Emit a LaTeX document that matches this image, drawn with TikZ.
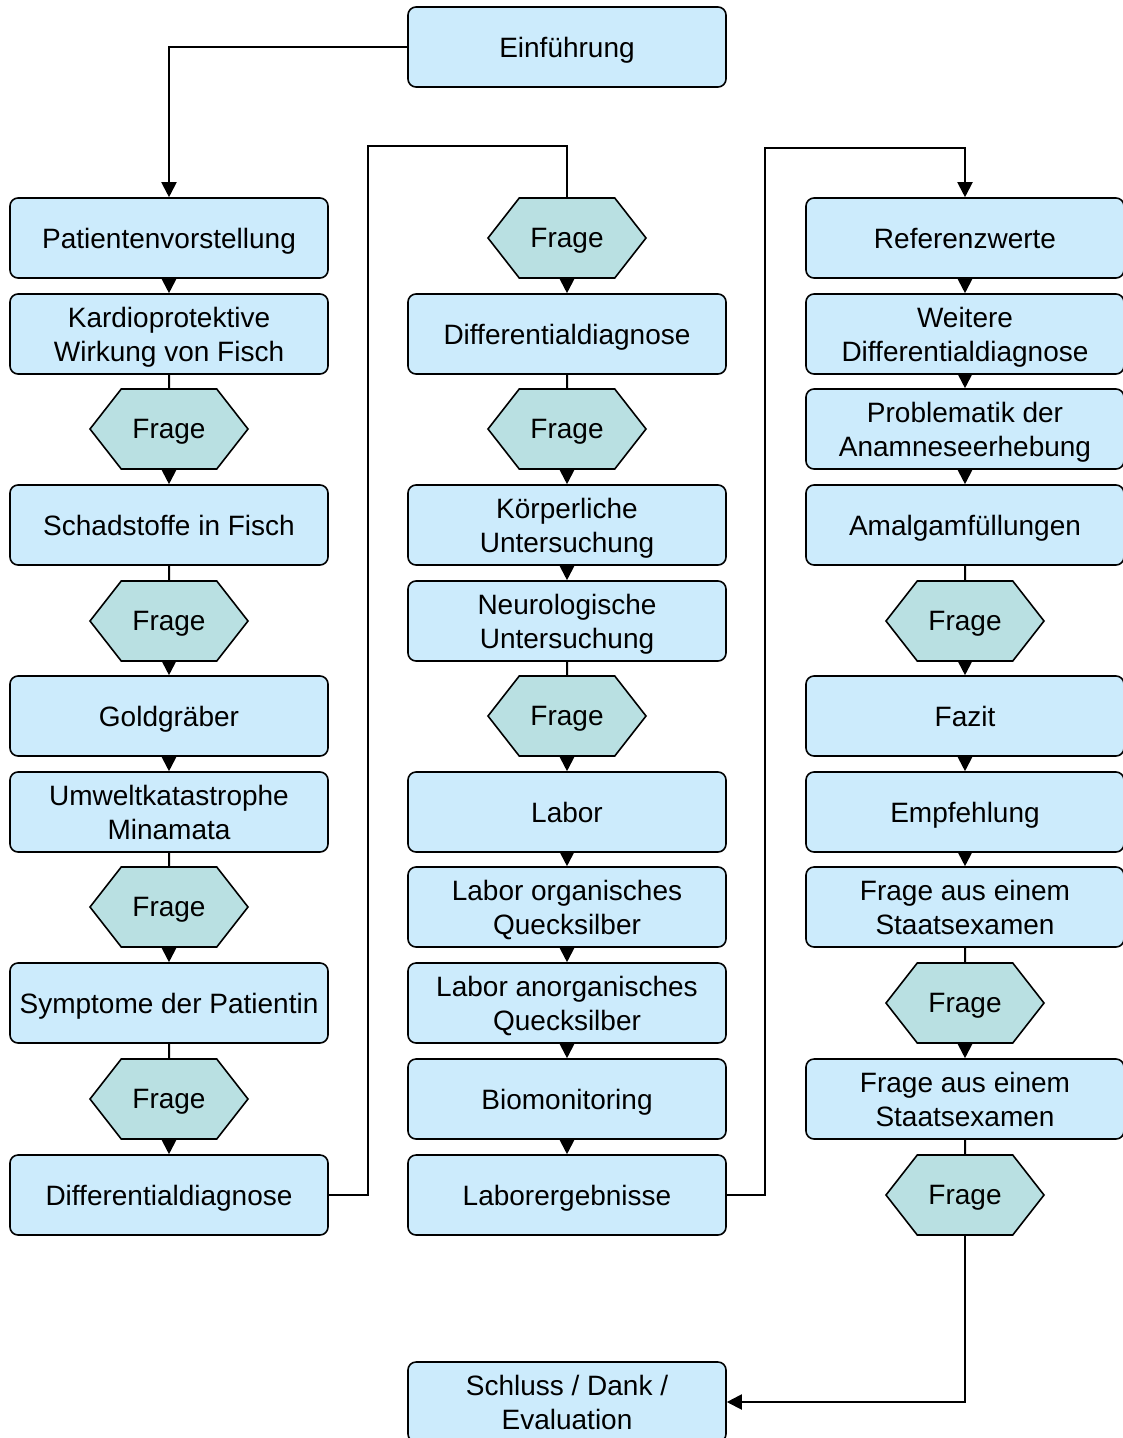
\documentclass[tikz,border=0pt]{standalone}
\usepackage{fontspec}
\setmainfont{Liberation Sans}
\usepackage{tikz}
\usetikzlibrary{shapes,shapes.symbols,arrows.meta,positioning,calc}
\usepackage{xcolor}
\definecolor{box-blue}{RGB}{204,235,252}
\definecolor{frage-teal}{RGB}{185,224,226}

\begin{document}
\begin{tikzpicture}[x=1pt, y=-1pt,
    box/.style={rectangle, draw, line width=1.6pt, fill=box-blue, minimum width=318pt, minimum height=80pt, align=center, text depth=0pt, rounded corners=8pt, font=\fontsize{28}{34}\selectfont},
    frage/.style={signal, signal to=west and east, signal pointer angle=104, draw, line width=1.6pt, fill=frage-teal, minimum width=158pt, minimum height=80pt, inner xsep=0pt, text depth=0pt, font=\fontsize{28}{34}\selectfont},
    arrow/.style={-{Triangle[width=15pt,length=15pt]}, line width=2pt},
    line/.style={-, line width=2pt}]

    \useasboundingbox (0,0) rectangle (1123,1438);

    % Start
    \node[box] (einf) at (567,47) {Einführung};

    % Column 1
    \node[box] (pat) at (169,238) {Patientenvorstellung};
    \node[box] (kardio) at (169,334) {Kardioprotektive\\Wirkung von Fisch};
    \node[frage] (fragea) at (169,429) {Frage};
    \node[box] (schad) at (169,525) {Schadstoffe in Fisch};
    \node[frage] (frageb) at (169,621) {Frage};
    \node[box] (gold) at (169,716) {Goldgräber};
    \node[box] (umwelt) at (169,812) {Umweltkatastrophe\\Minamata};
    \node[frage] (fragec) at (169,907) {Frage};
    \node[box] (sympt) at (169,1003) {Symptome der Patientin};
    \node[frage] (fraged) at (169,1099) {Frage};
    \node[box] (diffa) at (169,1195) {Differentialdiagnose};

    % Column 2
    \node[frage] (fragee) at (567,238) {Frage};
    \node[box] (diffb) at (567,334) {Differentialdiagnose};
    \node[frage] (fragef) at (567,429) {Frage};
    \node[box] (koerper) at (567,525) {Körperliche\\Untersuchung};
    \node[box] (neuro) at (567,621) {Neurologische\\Untersuchung};
    \node[frage] (frageg) at (567,716) {Frage};
    \node[box] (labor) at (567,812) {Labor};
    \node[box] (org) at (567,907) {Labor organisches\\Quecksilber};
    \node[box] (anorg) at (567,1003) {Labor anorganisches\\Quecksilber};
    \node[box] (bio) at (567,1099) {Biomonitoring};
    \node[box] (ergeb) at (567,1195) {Laborergebnisse};

    % Column 3
    \node[box] (ref) at (965,238) {Referenzwerte};
    \node[box] (weitere) at (965,334) {Weitere\\Differentialdiagnose};
    \node[box] (problem) at (965,429) {Problematik der\\Anamneseerhebung};
    \node[box] (amalgam) at (965,525) {Amalgamfüllungen};
    \node[frage] (frageh) at (965,621) {Frage};
    \node[box] (fazit) at (965,716) {Fazit};
    \node[box] (empf) at (965,812) {Empfehlung};
    \node[box] (staatsa) at (965,907) {Frage aus einem\\Staatsexamen};
    \node[frage] (fragei) at (965,1003) {Frage};
    \node[box] (staatsb) at (965,1099) {Frage aus einem\\Staatsexamen};
    \node[frage] (fragej) at (965,1195) {Frage};

    % End
    \node[box] (schluss) at (567,1402) {Schluss / Dank /\\Evaluation};

    % Turn points
    \coordinate (turna) at (368,146);
    \coordinate (turnb) at (765,148);

    % Arrows - column 1
    \draw[arrow] (einf.west) -| (pat.north);
    \draw[arrow] (pat) -- (kardio);
    \draw[line] (kardio) -- (fragea);
    \draw[arrow] (fragea) -- (schad);
    \draw[line] (schad) -- (frageb);
    \draw[arrow] (frageb) -- (gold);
    \draw[arrow] (gold) -- (umwelt);
    \draw[line] (umwelt) -- (fragec);
    \draw[arrow] (fragec) -- (sympt);
    \draw[line] (sympt) -- (fraged);
    \draw[arrow] (fraged) -- (diffa);

    % Arrows - column 2
    \draw[line] (diffa.east) -| (turna) -| (fragee.north);
    \draw[arrow] (fragee) -- (diffb);
    \draw[line] (diffb) -- (fragef);
    \draw[arrow] (fragef) -- (koerper);
    \draw[arrow] (koerper) -- (neuro);
    \draw[line] (neuro) -- (frageg);
    \draw[arrow] (frageg) -- (labor);
    \draw[arrow] (labor) -- (org);
    \draw[arrow] (org) -- (anorg);
    \draw[arrow] (anorg) -- (bio);
    \draw[arrow] (bio) -- (ergeb);

    % Arrows - column 3
    \draw[arrow] (ergeb.east) -| (turnb) -| (ref.north);
    \draw[arrow] (ref) -- (weitere);
    \draw[arrow] (weitere) -- (problem);
    \draw[arrow] (problem) -- (amalgam);
    \draw[line] (amalgam) -- (frageh);
    \draw[arrow] (frageh) -- (fazit);
    \draw[arrow] (fazit) -- (empf);
    \draw[arrow] (empf) -- (staatsa);
    \draw[line] (staatsa) -- (fragei);
    \draw[arrow] (fragei) -- (staatsb);
    \draw[line] (staatsb) -- (fragej);
    \draw[arrow] (fragej.south) |- (schluss.east);
\end{tikzpicture}
\end{document}
